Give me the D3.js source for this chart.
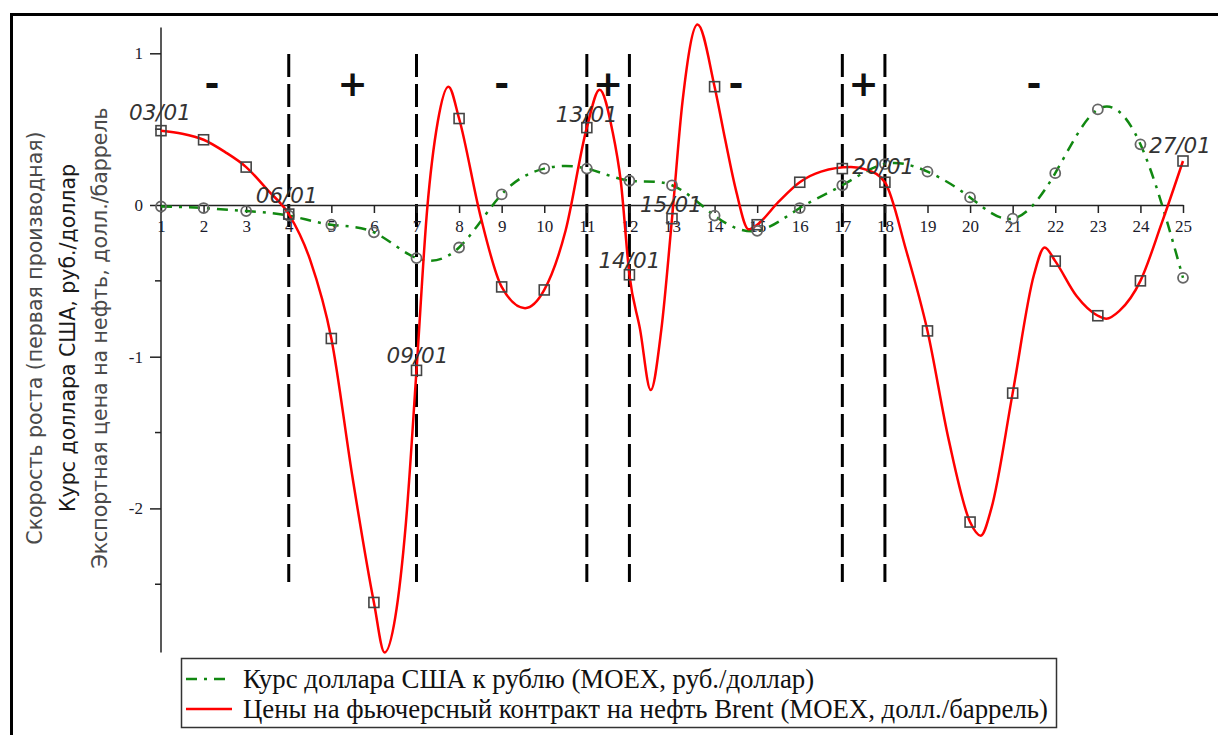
<!DOCTYPE html>
<html>
<head>
<meta charset="utf-8">
<script src="https://cdn.jsdelivr.net/npm/d3@7"></script>
<style>
  html, body { margin: 0; padding: 0; background: #fff; }
  svg { display: block; }
</style>
</head>
<body>
<svg id="chart" width="1218" height="735"></svg>
<script>
// Days of January (x positions 1..25)
var days = [1, 2, 3, 4, 5, 6, 7, 8, 9, 10, 11, 12, 13, 14, 15, 16, 17, 18, 19, 20, 21, 22, 23, 24, 25];
// Growth rate of USD/RUB (MOEX) - markers and curve
var usd = [-0.01, -0.02, -0.04, -0.07, -0.13, -0.18, -0.35, -0.28, 0.07, 0.24, 0.24, 0.16, 0.13,
           -0.07, -0.17, -0.02, 0.13, 0.27, 0.22, 0.05, -0.09, 0.21, 0.63, 0.40, -0.48];
// Growth rate of Brent futures (MOEX) - markers
var oil = [0.49, 0.43, 0.25, -0.06, -0.88, -2.62, -1.09, 0.57, -0.54, -0.56, 0.51, -0.46, -0.09,
           0.78, -0.13, 0.15, 0.24, 0.15, -0.83, -2.09, -1.24, -0.37, -0.73, -0.50, 0.29];
// Brent curve (it swings well past the markers)
var oilCurveDays = [1, 1.5, 2, 2.5, 3, 3.5, 4, 4.5, 5, 5.5, 6, 6.25, 6.5, 6.75, 7, 7.25, 7.5, 7.75, 8, 8.5,
                    9, 9.55, 10, 10.5, 11, 11.3, 11.6, 11.8, 12, 12.25, 12.5, 12.75, 13, 13.25, 13.6, 14,
                    14.25, 14.5, 14.8, 15, 15.5, 16, 16.5, 17.2, 17.6, 18, 18.5, 19, 19.5, 20, 20.25, 20.5,
                    21, 21.5, 21.75, 22, 22.5, 23, 23.2, 23.5, 24, 24.5, 25];
var oilCurve = [0.49, 0.47, 0.43, 0.35, 0.25, 0.1, -0.06, -0.36, -0.88, -1.8, -2.62, -2.95, -2.72, -2.1,
                -1.09, -0.03, 0.55, 0.78, 0.57, -0.07, -0.54, -0.68, -0.56, -0.17, 0.51, 0.76, 0.49, 0.15,
                -0.46, -0.82, -1.22, -0.82, -0.09, 0.69, 1.19, 0.78, 0.43, 0.1, -0.16, -0.13, 0.02, 0.15,
                0.22, 0.25, 0.23, 0.15, -0.3, -0.83, -1.55, -2.09, -2.18, -2.0, -1.24, -0.46, -0.28,
                -0.37, -0.6, -0.73, -0.75, -0.7, -0.5, -0.12, 0.29];
// Regime boundaries and signs between them
var dividers = [4, 7, 11, 12, 17, 18];
var signDays = [2.2, 5.5, 9, 11.5, 14.5, 17.5, 21.5];
var signs = ["-", "+", "-", "+", "-", "+", "-"];
// Date annotations (day index -> label)
var dateDays = [1, 4, 7, 11, 12, 13, 17, 25];
var dateTexts = ["03/01", "06/01", "09/01", "13/01", "14/01", "15/01", "20/01", "27/01"];
var yTicks = [-2, -1, 0, 1];
var yMinor = [-2.5, -1.5, -0.5, 0.5];
var yTitle = ["Скорость роста (первая производная)", "Курс доллара США, руб./доллар", "Экспортная цена на нефть, долл./баррель"];
var legendNames = ["Курс доллара США  к рублю (MOEX, руб./доллар)", "Цены на фьючерсный контракт на нефть Brent (MOEX, долл./баррель)"];

var svg = d3.select("#chart");
var x = d3.scaleLinear().domain([1, 25]).range([161, 1183]);
var y = d3.scaleLinear().domain([1, 0]).range([53.3, 205]);
var C = { usd: "#118811", oil: "#ff0000", axis: "#222", mark: "#444", circ: "#666" };

// outer frame (left + top only visible)
svg.append("path").attr("d", "M11.5,735V14.5H1218")
  .attr("fill", "none").attr("stroke", "#000").attr("stroke-width", 3);

// y title (three rotated lines)
var tx = [35, 68, 100], tc = ["#4a4a4a", "#1a1a1a", "#4a4a4a"];
yTitle.forEach(function (t, i) {
  svg.append("text")
    .attr("transform", "translate(" + (tx[i] + 7) + ",338) rotate(-90)")
    .attr("text-anchor", "middle")
    .attr("font-family", "DejaVu Sans, sans-serif").attr("font-size", 20.5)
    .attr("fill", tc[i]).text(t);
});

// dividers
svg.append("g").selectAll("line").data(dividers).join("line")
  .attr("x1", function (d) { return x(d); }).attr("x2", function (d) { return x(d); })
  .attr("y1", 54).attr("y2", 582)
  .attr("stroke", "#000").attr("stroke-width", 3).attr("stroke-dasharray", "23,7");

// signs
svg.append("g").selectAll("text").data(signs).join("text")
  .attr("x", function (d, i) { return x(signDays[i]); }).attr("y", 96)
  .attr("text-anchor", "middle")
  .attr("font-family", "DejaVu Sans, sans-serif").attr("font-weight", "bold")
  .attr("font-size", 36).attr("fill", "#111").text(function (d) { return d; });

// axes
var yAxis = svg.append("g").attr("transform", "translate(161,0)")
  .call(d3.axisLeft(y).tickValues(yTicks).tickSize(11).tickPadding(7).tickFormat(d3.format("d")));
yAxis.select(".domain").attr("d", "M0," + y(1.17) + "V" + y(-2.95));
yAxis.selectAll(".tick text").text(function (d) { return d < 0 ? "-" + Math.abs(d) : d; });
svg.append("g").selectAll("line").data(yMinor).join("line")
  .attr("x1", 155).attr("x2", 161)
  .attr("y1", function (d) { return y(d); }).attr("y2", function (d) { return y(d); })
  .attr("stroke", C.axis).attr("stroke-width", 1.5);

var xAxis = svg.append("g").attr("transform", "translate(0," + y(0) + ")")
  .call(d3.axisBottom(x).tickValues(days).tickSize(8).tickPadding(7).tickSizeOuter(0).tickFormat(d3.format("d")));

[yAxis, xAxis].forEach(function (g) {
  g.select(".domain").attr("stroke", C.axis).attr("stroke-width", 1.5);
  g.selectAll(".tick line").attr("stroke", C.axis).attr("stroke-width", 1.5);
  g.selectAll(".tick text").attr("font-family", "Liberation Serif, Times New Roman, serif")
    .attr("font-size", 17).attr("fill", "#1b1b2b");
});

// curves
var usdLine = d3.line().curve(d3.curveNatural)
  .x(function (d, i) { return x(days[i]); }).y(function (d) { return y(d); });
var oilLine = d3.line().curve(d3.curveMonotoneX)
  .x(function (d, i) { return x(oilCurveDays[i]); }).y(function (d) { return y(d); });
svg.append("path").datum(usd).attr("d", usdLine)
  .attr("fill", "none").attr("stroke", C.usd).attr("stroke-width", 2.5)
  .attr("stroke-dasharray", "11,7,3,7");
svg.append("path").datum(oilCurve).attr("d", oilLine)
  .attr("fill", "none").attr("stroke", C.oil).attr("stroke-width", 2.5);

// markers
svg.append("g").selectAll("circle").data(usd).join("circle")
  .attr("cx", function (d, i) { return x(days[i]); }).attr("cy", function (d) { return y(d); })
  .attr("r", 5).attr("fill", "none").attr("stroke", C.circ).attr("stroke-width", 1.8);
svg.append("g").selectAll("rect").data(oil).join("rect")
  .attr("x", function (d, i) { return x(days[i]) - 5; }).attr("y", function (d) { return y(d) - 5; })
  .attr("width", 10).attr("height", 10)
  .attr("fill", "none").attr("stroke", C.mark).attr("stroke-width", 1.6);

// date labels
var dOff = [[-32, -11], [-33, -11], [-30, -7], [-31, -6], [-31, -7], [-32, -7], [10, 5], [-34, -8]];
svg.append("g").selectAll("text").data(dateTexts).join("text")
  .attr("x", function (d, i) { return x(dateDays[i]) + dOff[i][0]; })
  .attr("y", function (d, i) { return y(oil[dateDays[i] - 1]) + dOff[i][1]; })
  .attr("font-family", "DejaVu Sans, sans-serif").attr("font-style", "italic")
  .attr("font-size", 21.5).attr("fill", "#333").text(function (d) { return d; });

// legend
var lg = svg.append("g");
lg.append("rect").attr("x", 181.5).attr("y", 658.5).attr("width", 875).attr("height", 69)
  .attr("fill", "#fff").attr("stroke", "#333").attr("stroke-width", 1.5);
var lcol = [C.usd, C.oil], ldash = ["11,7,3,7", null], ly = [679, 709];
legendNames.forEach(function (t, i) {
  lg.append("line").attr("x1", 186).attr("x2", 232).attr("y1", ly[i]).attr("y2", ly[i])
    .attr("stroke", lcol[i]).attr("stroke-width", 2.5).attr("stroke-dasharray", ldash[i]);
  lg.append("text").attr("x", 243).attr("y", ly[i] + 9)
    .attr("font-family", "Liberation Serif, Times New Roman, serif").attr("font-size", 26.8)
    .attr("fill", "#111").text(t);
});
</script>
</body>
</html>
